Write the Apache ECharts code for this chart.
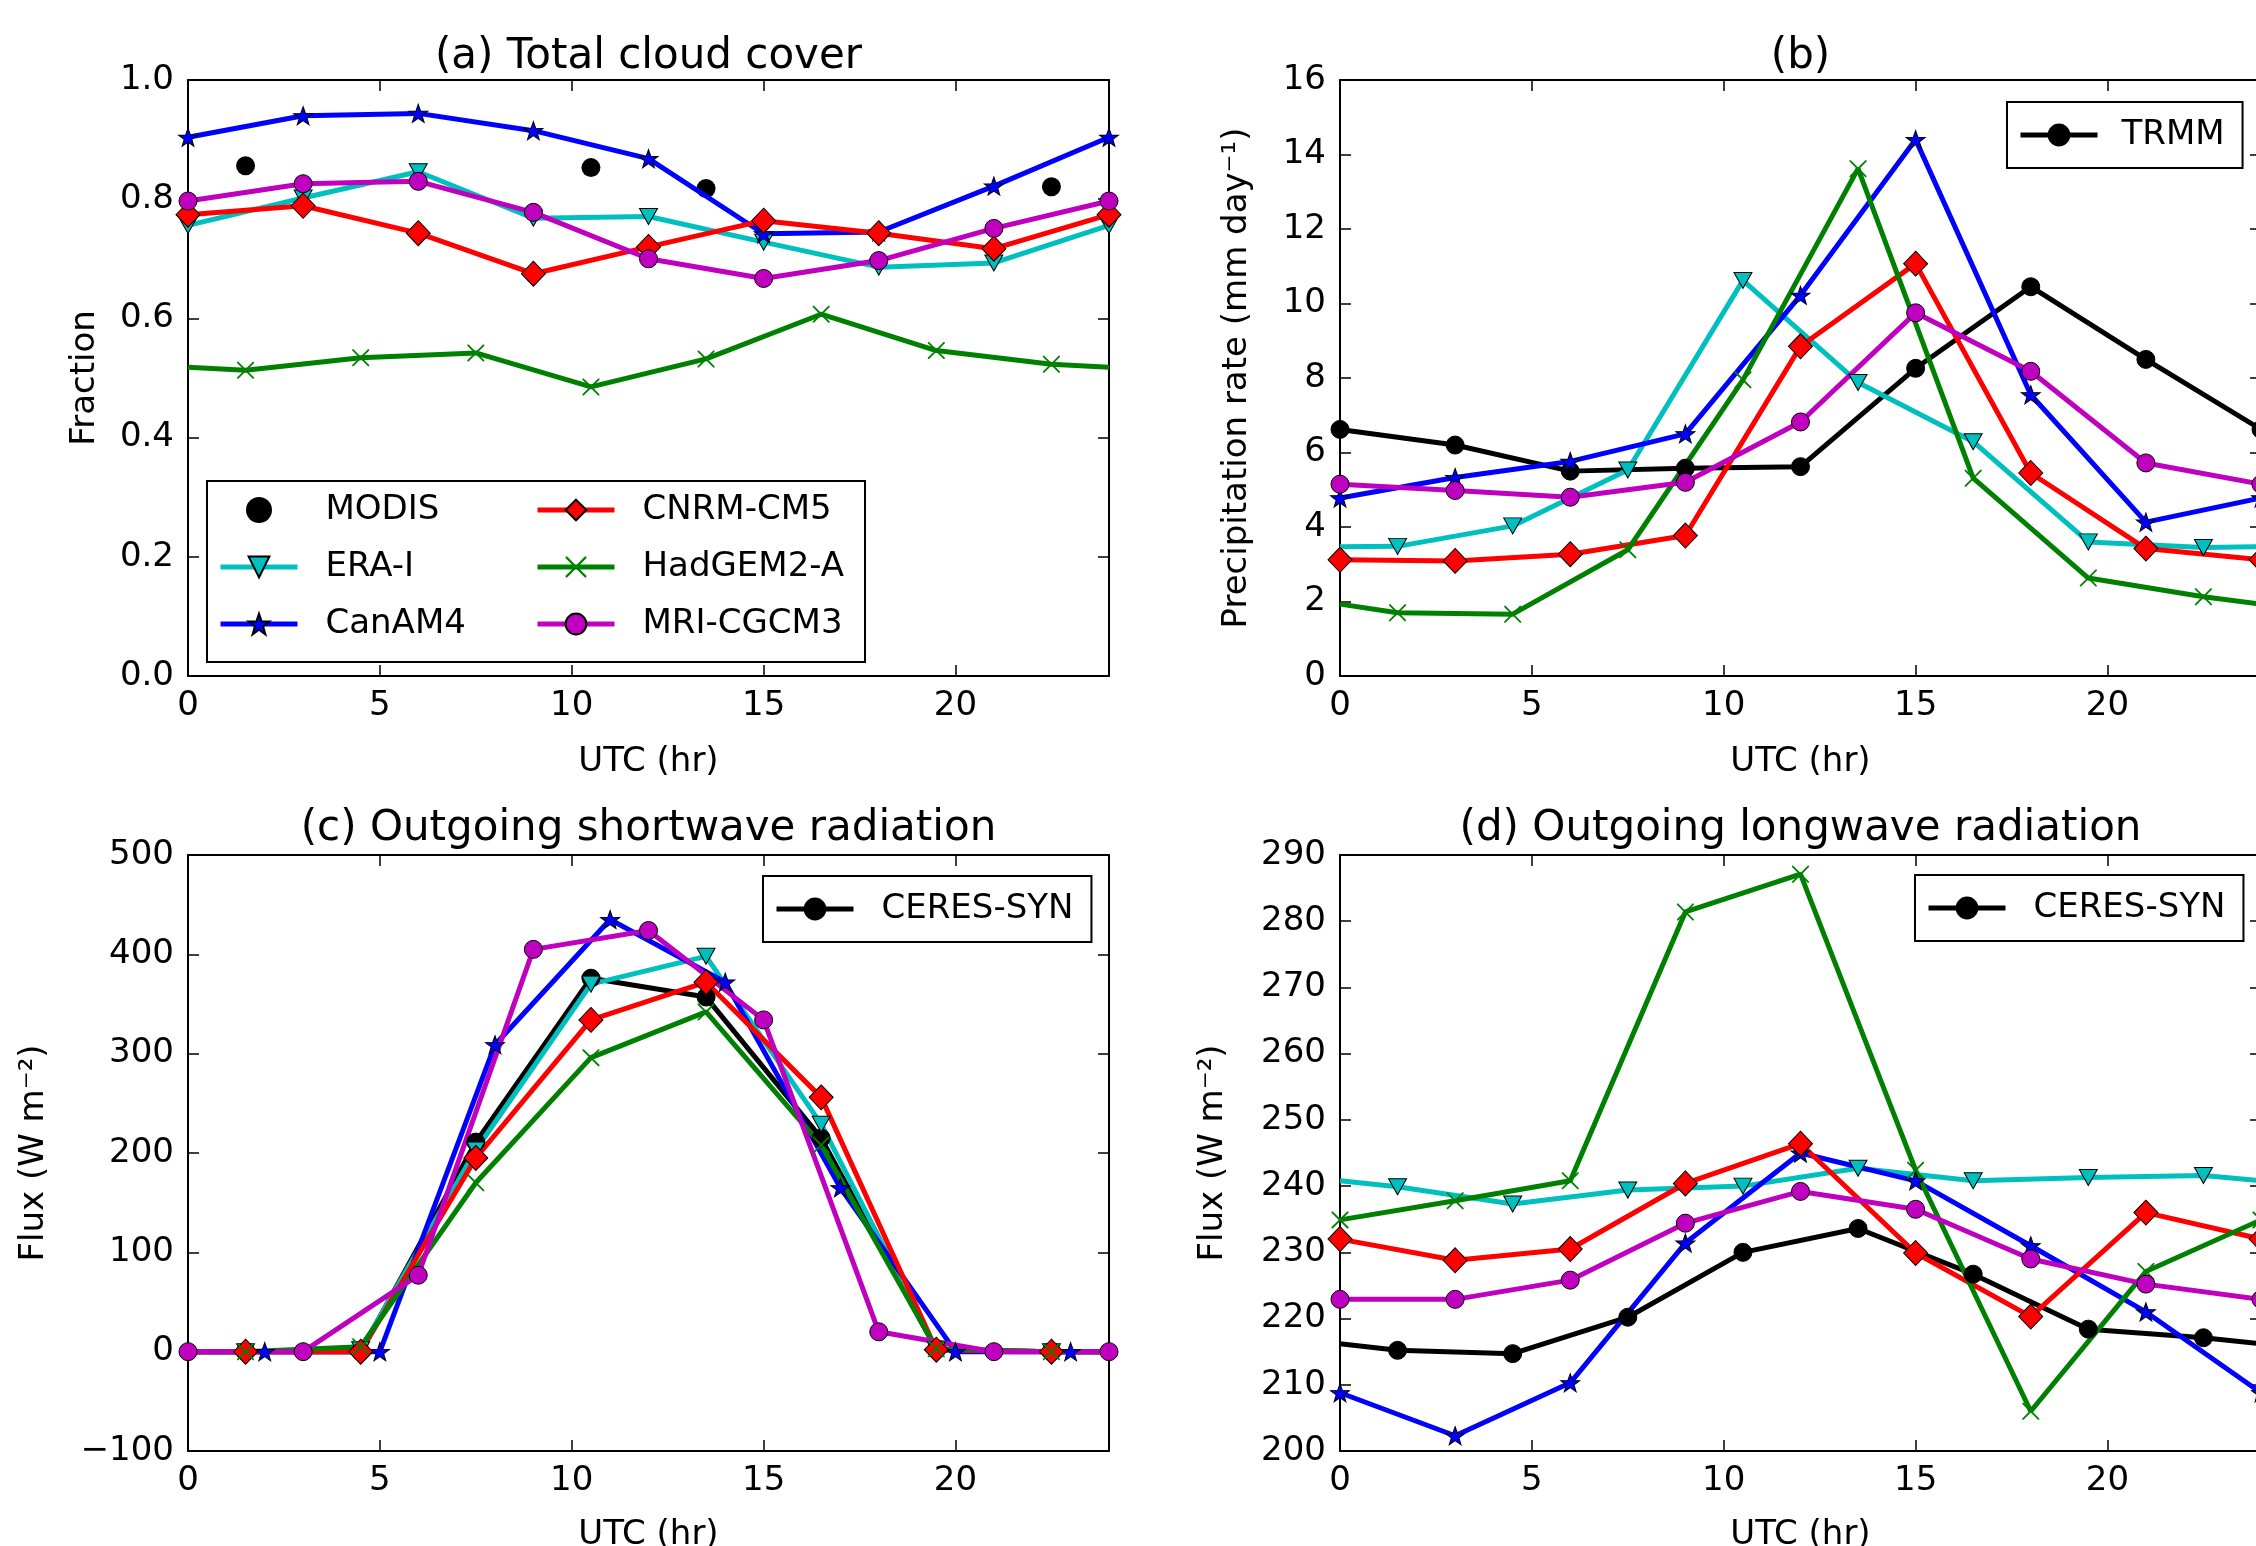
<!DOCTYPE html>
<html lang="en">
<head>
  <meta charset="utf-8">
  <title>Diurnal cycle</title>
  <script src="https://cdn.jsdelivr.net/npm/echarts@6.0.0/dist/echarts.min.js"></script>
  <style>
    html, body { margin: 0; padding: 0; background: #fff; }
    #main { width: 2256px; height: 1546px; }
  </style>
</head>
<body>
  <div id="main"></div>
  <script>
    // sampling hours
    var HOURS_3 = [0, 3, 6, 9, 12, 15, 18, 21, 24];
    // mid-interval samples, padded with the cyclic value at 0 and 24 (drawn without marker)
    var HOURS_MID = [0, 1.5, 4.5, 7.5, 10.5, 13.5, 16.5, 19.5, 22.5, 24];
    var HOURS_CAN_SW = [0, 2, 5, 8, 11, 14, 17, 20, 23, 24];
    var MODIS_HOURS = [1.5, 10.5, 13.5, 22.5];

    // (a) total cloud cover
    var modisCloud = [0.856, 0.853, 0.818, 0.821];
    var eraCloud = [0.756, 0.802, 0.846, 0.768, 0.771, 0.728, 0.686, 0.693, 0.756];
    var canCloud = [0.904, 0.940, 0.944, 0.915, 0.868, 0.742, 0.745, 0.822, 0.904];
    var cnrmCloud = [0.774, 0.789, 0.743, 0.675, 0.720, 0.764, 0.743, 0.717, 0.774];
    var hadCloud = [0.518, 0.513, 0.534, 0.542, 0.485, 0.532, 0.607, 0.546, 0.523, 0.518];
    var mriCloud = [0.797, 0.826, 0.830, 0.778, 0.700, 0.667, 0.697, 0.751, 0.797];

    // (b) precipitation
    var trmmPrecip = [6.62, 6.2, 5.5, 5.58, 5.62, 8.26, 10.45, 8.5, 6.62];
    var eraPrecip = [3.47, 3.48, 4.03, 5.53, 10.62, 7.88, 6.29, 3.6, 3.45, 3.47];
    var canPrecip = [4.78, 5.33, 5.76, 6.5, 10.22, 14.4, 7.55, 4.13, 4.78];
    var cnrmPrecip = [3.12, 3.09, 3.27, 3.77, 8.85, 11.07, 5.45, 3.42, 3.12];
    var hadPrecip = [1.93, 1.70, 1.66, 3.39, 7.95, 13.62, 5.31, 2.63, 2.13, 1.93];
    var mriPrecip = [5.15, 4.98, 4.8, 5.2, 6.82, 9.75, 8.18, 5.72, 5.15];

    // (c) outgoing shortwave
    var ceresSw = [0, 0, 0, 211, 376, 357, 215, 2, 0, 0];
    var eraSw = [0, 0, 2, 203, 370, 398, 229, 2, 0, 0];
    var canSw = [0, 0, 0, 309, 435, 372, 165, 0, 0, 0];
    var cnrmSw = [0, 0, 0, 195, 334, 372, 256, 2, 0, 0];
    var hadSw = [0, 0, 5, 170, 296, 342, 208, 3, 0, 0];
    var mriSw = [0, 0, 77, 405, 424, 334, 20, 0, 0];

    // (d) outgoing longwave
    var ceresLw = [216.2, 215.2, 214.7, 220.2, 230.0, 233.6, 226.7, 218.4, 217.1, 216.2];
    var eraLw = [240.8, 239.9, 237.3, 239.4, 240.0, 242.7, 240.8, 241.3, 241.6, 240.8];
    var canLw = [208.8, 202.3, 210.3, 231.4, 245.0, 240.8, 231.0, 221.0, 208.8];
    var cnrmLw = [232.0, 228.8, 230.5, 240.4, 246.4, 229.9, 220.3, 236.0, 232.0];
    var hadLw = [234.9, 237.8, 240.8, 281.4, 287.1, 242.4, 206.0, 227.1, 234.9];
    var mriLw = [222.9, 222.9, 225.8, 234.4, 239.2, 236.5, 229.0, 225.2, 222.9];

    var FONT = 'DejaVu Sans';
    var STAR = 'path://M0,-10 L2.35,-3.24 L9.51,-3.09 L3.8,1.24 L5.88,8.09 L0,4 L-5.88,8.09 L-3.8,1.24 L-9.51,-3.09 L-2.35,-3.24 Z';
    var XMARK = 'path://M0,0 L1.5,0 L10,8.5 L18.5,0 L20,0 L20,1.5 L11.5,10 L20,18.5 L20,20 L18.5,20 L10,11.5 L1.5,20 L0,20 L0,18.5 L8.5,10 L0,1.5 Z';

    var GRID_W = 921, GRID_H = 596;
    var GRID_POS = [[188, 80], [1340, 80], [188, 855], [1340, 855]];
    var Y_RANGES = [[0, 1, 0.2], [0, 16, 2], [-100, 500, 100], [200, 290, 10]];
    var Y_NAMES = ['Fraction', 'Precipitation rate (mm day\u207B\u00B9)', 'Flux (W m\u207B\u00B2)', 'Flux (W m\u207B\u00B2)'];
    var Y_NAME_GAPS = [86, 86, 137, 110];
    var TITLES = ['(a) Total cloud cover', '(b)', '(c) Outgoing shortwave radiation', '(d) Outgoing longwave radiation'];
    var TITLE_TOPS = [32, 32, 804, 804];
    var LINE_W = 5;

    var LOOK = {
      'ERA-I': { color: '#00bfbf', symbol: 'triangle', size: [18, 16], rotate: 180 },
      'CanAM4': { color: '#0000ff', symbol: STAR, size: [19, 18] },
      'CNRM-CM5': { color: '#ff0000', symbol: 'diamond', size: [24, 25] },
      'HadGEM2-A': { color: '#008000', symbol: XMARK, size: 17, noEdge: true },
      'MRI-CGCM3': { color: '#bf00bf', symbol: 'circle', size: 18 },
      'TRMM': { color: '#000000', symbol: 'circle', size: 18 },
      'CERES-SYN': { color: '#000000', symbol: 'circle', size: 18 }
    };

    function pts(hours, vals, padded) {
      return hours.map(function (h, i) {
        var d = { value: [h, vals[i]] };
        if (padded && (i === 0 || i === hours.length - 1)) d.symbol = 'none';
        return d;
      });
    }

    function line(name, g, hours, vals, padded) {
      var s = LOOK[name];
      return {
        name: name, type: 'line', xAxisIndex: g, yAxisIndex: g,
        data: pts(hours, vals, padded),
        symbol: s.symbol, symbolSize: s.size, symbolRotate: s.rotate || 0,
        lineStyle: { color: s.color, width: LINE_W, opacity: 1 },
        itemStyle: { color: s.color, opacity: 1, borderColor: s.noEdge ? s.color : '#000', borderWidth: s.noEdge ? 0 : 1 },
        emphasis: { disabled: true }
      };
    }

    var series = [
      {
        name: 'MODIS', type: 'scatter', xAxisIndex: 0, yAxisIndex: 0,
        data: MODIS_HOURS.map(function (h, i) { return [h, modisCloud[i]]; }),
        symbol: 'circle', symbolSize: 19, itemStyle: { color: '#000', opacity: 1 },
        emphasis: { disabled: true }
      },
      line('ERA-I', 0, HOURS_3, eraCloud, false),
      line('CanAM4', 0, HOURS_3, canCloud, false),
      line('CNRM-CM5', 0, HOURS_3, cnrmCloud, false),
      line('HadGEM2-A', 0, HOURS_MID, hadCloud, true),
      line('MRI-CGCM3', 0, HOURS_3, mriCloud, false),

      line('TRMM', 1, HOURS_3, trmmPrecip, false),
      line('ERA-I', 1, HOURS_MID, eraPrecip, true),
      line('CanAM4', 1, HOURS_3, canPrecip, false),
      line('CNRM-CM5', 1, HOURS_3, cnrmPrecip, false),
      line('HadGEM2-A', 1, HOURS_MID, hadPrecip, true),
      line('MRI-CGCM3', 1, HOURS_3, mriPrecip, false),

      line('CERES-SYN', 2, HOURS_MID, ceresSw, true),
      line('ERA-I', 2, HOURS_MID, eraSw, true),
      line('CanAM4', 2, HOURS_CAN_SW, canSw, true),
      line('CNRM-CM5', 2, HOURS_MID, cnrmSw, true),
      line('HadGEM2-A', 2, HOURS_MID, hadSw, true),
      line('MRI-CGCM3', 2, HOURS_3, mriSw, false),

      line('CERES-SYN', 3, HOURS_MID, ceresLw, true),
      line('ERA-I', 3, HOURS_MID, eraLw, true),
      line('CanAM4', 3, HOURS_3, canLw, false),
      line('CNRM-CM5', 3, HOURS_3, cnrmLw, false),
      line('HadGEM2-A', 3, HOURS_3, hadLw, false),
      line('MRI-CGCM3', 3, HOURS_3, mriLw, false)
    ];

    var textBase = { color: '#000', fontFamily: FONT, fontSize: 34 };
    var axisLine = { show: true, onZero: false, lineStyle: { color: '#000', width: 2 } };
    var axisTick = { show: true, inside: true, length: 11, lineStyle: { color: '#000', width: 1.5 } };

    var grids = [], xAxes = [], yAxes = [], titles = [];
    GRID_POS.forEach(function (p, g) {
      grids.push({ left: p[0], top: p[1], width: GRID_W, height: GRID_H, outerBoundsMode: 'none', containLabel: false });
      titles.push({
        text: TITLES[g], left: p[0] + GRID_W / 2, top: TITLE_TOPS[g], textAlign: 'center', padding: 0,
        textStyle: { color: '#000', fontFamily: FONT, fontSize: 42, fontWeight: 'normal', lineHeight: 50 }
      });
    });
    [0, 1].forEach(function (side) {
      GRID_POS.forEach(function (p, g) {
        var r = Y_RANGES[g];
        xAxes.push({
          type: 'value', gridIndex: g, position: side ? 'top' : 'bottom',
          min: 0, max: 24, interval: 5,
          name: side ? '' : 'UTC (hr)', nameLocation: 'middle', nameGap: g < 2 ? 69 : 67, nameMoveOverlap: false,
          nameTextStyle: textBase,
          axisLine: axisLine, axisTick: axisTick, splitLine: { show: false },
          axisLabel: Object.assign({ show: !side, margin: 13, showMaxLabel: false }, textBase)
        });
        yAxes.push({
          type: 'value', gridIndex: g, position: side ? 'right' : 'left',
          min: r[0], max: r[1], interval: r[2],
          name: side ? '' : Y_NAMES[g], nameLocation: 'middle', nameRotate: 90,
          nameGap: Y_NAME_GAPS[g], nameMoveOverlap: false,
          nameTextStyle: textBase,
          axisLine: axisLine, axisTick: axisTick, splitLine: { show: false },
          axisLabel: Object.assign({
            show: !side, margin: 14,
            formatter: function (v) {
              if (g === 0) return v.toFixed(1);
              return String(v).replace('-', '\u2212');
            }
          }, textBase)
        });
      });
    });

    var legendText = function (pad) {
      return Object.assign({ padding: [0, 0, 0, pad], lineHeight: 40 }, textBase);
    };
    var legendBase = {
      orient: 'vertical', itemWidth: 77, itemHeight: 26, selectedMode: false,
      inactiveColor: '#000',
      lineStyle: { width: LINE_W }
    };

    var option = {
      animation: false,
      backgroundColor: '#fff',
      title: titles,
      grid: grids,
      xAxis: xAxes,
      yAxis: yAxes,
      legend: [
        Object.assign({ data: ['MODIS', 'ERA-I', 'CanAM4'], left: 218, top: 490, itemGap: 17, padding: 0, textStyle: legendText(23) }, legendBase),
        Object.assign({ data: ['CNRM-CM5', 'HadGEM2-A', 'MRI-CGCM3'], left: 535, top: 490, itemGap: 17, padding: 0, textStyle: legendText(23) }, legendBase),
        Object.assign({ data: ['TRMM'], left: 2007, top: 102, padding: [13, 18, 13, 11], borderColor: '#000', borderWidth: 2, backgroundColor: '#fff', textStyle: legendText(19) }, legendBase),
        Object.assign({ data: ['CERES-SYN'], left: 763, top: 876, padding: [13, 18, 13, 11], borderColor: '#000', borderWidth: 2, backgroundColor: '#fff', textStyle: legendText(23) }, legendBase),
        Object.assign({ data: ['CERES-SYN'], left: 1915, top: 875, padding: [13, 18, 13, 11], borderColor: '#000', borderWidth: 2, backgroundColor: '#fff', textStyle: legendText(23) }, legendBase)
      ],
      // frame of the two-column legend in panel (a)
      graphic: [{
        type: 'rect', left: 206, top: 480, z: 3,
        shape: { width: 658, height: 181 },
        style: { fill: '#fff', stroke: '#000', lineWidth: 2 }
      }],
      series: series
    };

    var chart = echarts.init(document.getElementById('main'));
    chart.setOption(option);
  </script>
</body>
</html>
